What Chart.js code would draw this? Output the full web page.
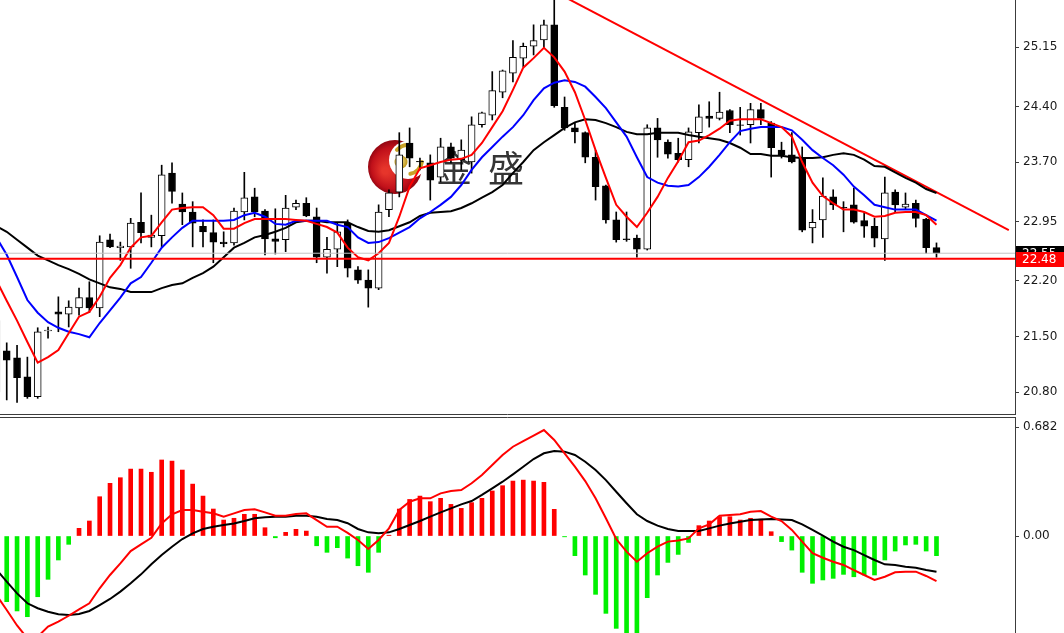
<!DOCTYPE html>
<html>
<head>
<meta charset="utf-8">
<script src="https://cdn.jsdelivr.net/npm/chart.js@4.4.1/dist/chart.umd.min.js"></script>
<style>
  html, body { margin: 0; padding: 0; background: #fff; }
  #wrap { position: relative; width: 1064px; height: 633px; overflow: hidden; }
  #priceBox { position: absolute; left: 0; top: 0; width: 1064px; height: 415px; }
  #macdBox { position: absolute; left: 0; top: 417px; width: 1064px; height: 216px; }
</style>
</head>
<body>
<div id="wrap">
  <div id="priceBox"><canvas id="priceChart"></canvas></div>
  <div id="macdBox"><canvas id="macdChart"></canvas></div>
</div>
<script>
// candles, one per bar (the first one sits just off the left edge)
const opens  = [21.70,
                21.32,21.23,20.99,20.74,21.57,21.81,21.78,21.86,21.99,21.86,
                22.72,22.62,22.63,22.94,22.75,22.77,23.56,23.17,23.07,22.89,
                22.81,22.69,22.68,23.07,23.26,23.08,22.73,22.72,23.13,23.18,
                23.01,22.50,22.60,22.93,22.34,22.21,22.11,23.10,23.32,23.94,
                23.71,23.69,23.51,23.89,23.73,23.70,24.17,24.29,24.58,24.82,
                25.01,25.16,25.24,25.43,24.39,24.13,24.07,23.76,23.40,22.97,
                22.73,22.74,22.60,24.13,23.95,23.81,23.73,24.07,24.28,24.25,
                24.35,24.17,24.17,24.36,24.19,23.85,23.79,23.76,22.87,22.97,
                23.26,23.13,23.16,22.96,22.89,22.73,23.32,23.13,23.18,22.98,22.62];
const highs  = [21.75,
                21.42,21.39,21.24,21.61,21.62,22.00,21.95,22.11,22.19,22.77,
                22.79,22.69,22.99,23.31,23.03,23.66,23.69,23.31,23.20,22.97,
                22.97,22.82,23.12,23.57,23.37,23.10,23.11,23.28,23.22,23.25,
                23.12,22.75,22.94,22.97,22.38,22.34,23.16,23.35,24.07,24.13,
                23.75,23.79,24.00,23.94,23.98,24.27,24.33,24.84,24.86,25.23,
                25.20,25.43,25.49,25.85,24.52,24.19,24.08,23.85,23.41,23.07,
                23.07,22.78,24.17,24.25,23.98,24.00,24.13,24.42,24.46,24.58,
                24.36,24.39,24.44,24.44,24.21,23.95,24.07,23.89,23.10,23.50,
                23.35,23.20,23.37,23.06,22.99,23.51,23.35,23.31,23.22,22.99,22.68];
const lows   = [20.70,
                20.70,20.67,20.72,20.72,21.48,21.56,21.62,21.77,21.80,21.75,
                22.62,22.46,22.36,22.68,22.63,22.63,23.18,22.91,22.63,22.63,
                22.43,22.63,22.65,22.97,23.01,22.53,22.54,22.57,23.10,23.01,
                22.43,22.30,22.38,22.25,22.17,21.87,22.09,23.01,23.26,23.64,
                23.60,23.22,23.45,23.69,23.60,23.56,24.14,24.23,24.51,24.71,
                24.90,25.05,25.14,24.39,24.10,23.94,23.69,23.22,22.93,22.69,
                22.70,22.50,22.59,23.76,23.75,23.70,23.64,23.94,24.14,24.23,
                24.07,24.04,23.94,24.17,23.51,23.75,23.69,22.82,22.68,22.75,
                23.10,22.82,22.93,22.75,22.63,22.46,23.07,23.10,22.88,22.55,22.50];
const closes = [20.80,
                21.20,20.98,20.74,21.56,21.58,21.78,21.87,21.99,21.86,22.69,
                22.63,22.64,22.93,22.81,22.78,23.54,23.33,23.07,22.93,22.82,
                22.69,22.67,23.08,23.25,23.07,22.73,22.70,23.12,23.18,23.02,
                22.50,22.60,22.82,22.36,22.21,22.11,23.07,23.31,23.79,23.75,
                23.70,23.47,23.89,23.75,23.85,24.17,24.32,24.60,24.85,25.02,
                25.16,25.23,25.43,24.41,24.13,24.08,23.76,23.39,22.97,22.72,
                22.72,22.60,24.13,23.98,23.80,23.73,24.08,24.27,24.25,24.33,
                24.17,24.16,24.36,24.25,23.88,23.79,23.70,22.84,22.94,23.27,
                23.16,23.12,22.94,22.89,22.74,23.31,23.16,23.17,22.99,22.62,22.55];

// moving averages as drawn
const maRed   = [22.21,
                 21.95,21.70,21.43,21.17,21.24,21.33,21.54,21.75,21.81,22.00,
                 22.24,22.40,22.62,22.75,22.77,22.94,23.10,23.12,23.13,23.13,
                 23.03,22.86,22.86,22.93,22.98,22.98,22.98,22.98,22.97,22.96,
                 22.92,22.88,22.81,22.62,22.50,22.46,22.55,22.68,23.01,23.39,
                 23.62,23.66,23.70,23.73,23.74,23.79,23.94,24.14,24.34,24.61,
                 24.89,25.01,25.14,25.02,24.84,24.58,24.23,23.85,23.50,23.16,
                 23.01,22.88,23.06,23.26,23.50,23.71,23.95,23.97,24.04,24.12,
                 24.22,24.24,24.24,24.24,24.19,24.14,24.02,23.70,23.44,23.27,
                 23.18,23.10,23.10,23.07,23.01,23.02,23.06,23.07,23.07,23.03,22.91];
const maBlue  = [22.75,
                 22.53,22.25,21.96,21.80,21.68,21.61,21.56,21.53,21.49,21.67,
                 21.83,21.99,22.17,22.25,22.43,22.62,22.75,22.87,22.96,22.96,
                 22.96,22.96,22.97,23.03,23.06,23.01,22.92,22.91,22.96,22.96,
                 22.96,22.96,22.91,22.88,22.75,22.68,22.69,22.74,22.81,22.88,
                 22.99,23.07,23.16,23.26,23.41,23.60,23.76,23.89,24.02,24.14,
                 24.29,24.48,24.63,24.70,24.73,24.71,24.65,24.52,24.38,24.20,
                 24.02,23.76,23.51,23.44,23.40,23.39,23.41,23.51,23.64,23.79,
                 23.95,24.09,24.12,24.14,24.14,24.14,24.10,23.98,23.85,23.75,
                 23.66,23.54,23.39,23.28,23.16,23.13,23.10,23.10,23.10,23.03,22.96];
const maBlack = [22.89,
                 22.82,22.72,22.62,22.52,22.46,22.40,22.35,22.29,22.22,22.17,
                 22.12,22.10,22.06,22.06,22.06,22.11,22.15,22.17,22.24,22.30,
                 22.38,22.50,22.62,22.68,22.75,22.78,22.82,22.87,22.94,22.96,
                 22.96,22.94,22.94,22.94,22.88,22.83,22.82,22.84,22.89,22.94,
                 23.02,23.06,23.07,23.08,23.12,23.18,23.25,23.32,23.41,23.56,
                 23.70,23.85,23.95,24.04,24.13,24.20,24.24,24.23,24.19,24.14,
                 24.08,24.05,24.05,24.07,24.07,24.07,24.04,24.02,24.00,23.98,
                 23.94,23.88,23.80,23.80,23.78,23.78,23.76,23.75,23.75,23.76,
                 23.79,23.81,23.79,23.73,23.65,23.64,23.57,23.50,23.44,23.36,23.31];

// MACD panel
const macdHist  = [-0.380,
                   -0.411,-0.469,-0.505,-0.380,-0.271,-0.150,-0.052,0.048,0.094,0.246,
                   0.330,0.365,0.419,0.419,0.399,0.476,0.469,0.413,0.325,0.250,
                   0.169,0.100,0.111,0.136,0.136,0.052,-0.011,0.023,0.042,0.031,
                   -0.061,-0.102,-0.073,-0.138,-0.186,-0.227,-0.102,0.005,0.169,0.229,
                   0.250,0.215,0.236,0.198,0.173,0.209,0.236,0.282,0.315,0.344,
                   0.350,0.344,0.336,0.167,-0.005,-0.123,-0.244,-0.365,-0.484,-0.578,
                   -0.640,-0.620,-0.386,-0.244,-0.165,-0.115,-0.040,0.065,0.094,0.121,
                   0.121,0.100,0.111,0.106,0.027,-0.035,-0.088,-0.227,-0.296,-0.275,
                   -0.265,-0.240,-0.255,-0.244,-0.244,-0.150,-0.094,-0.056,-0.052,-0.094,-0.123];
const macdLine  = [-0.370,
                   -0.463,-0.560,-0.640,-0.630,-0.567,-0.536,-0.499,-0.459,-0.421,-0.327,
                   -0.244,-0.171,-0.094,-0.052,-0.011,0.079,0.136,0.163,0.163,0.152,
                   0.142,0.121,0.142,0.163,0.167,0.148,0.127,0.127,0.138,0.142,
                   0.100,0.058,0.058,0.020,-0.025,-0.081,-0.025,0.048,0.163,0.215,
                   0.236,0.236,0.267,0.282,0.288,0.330,0.382,0.444,0.507,0.559,
                   0.594,0.628,0.663,0.601,0.518,0.434,0.344,0.236,0.111,-0.019,
                   -0.098,-0.161,-0.108,-0.067,-0.035,-0.028,-0.015,0.048,0.073,0.127,
                   0.131,0.136,0.152,0.156,0.121,0.094,0.038,-0.035,-0.108,-0.136,
                   -0.161,-0.181,-0.213,-0.244,-0.275,-0.255,-0.227,-0.223,-0.223,-0.250,-0.282];
const signalLine = [-0.210,
                   -0.286,-0.359,-0.421,-0.452,-0.474,-0.490,-0.494,-0.488,-0.469,-0.432,
                   -0.394,-0.348,-0.296,-0.240,-0.177,-0.119,-0.067,-0.019,0.017,0.044,
                   0.058,0.069,0.079,0.094,0.111,0.117,0.121,0.121,0.127,0.127,
                   0.121,0.106,0.100,0.080,0.044,0.023,0.017,0.023,0.044,0.069,
                   0.094,0.121,0.148,0.173,0.198,0.219,0.257,0.298,0.340,0.386,
                   0.434,0.482,0.518,0.532,0.528,0.507,0.465,0.413,0.350,0.277,
                   0.205,0.136,0.094,0.065,0.044,0.031,0.031,0.031,0.048,0.065,
                   0.079,0.090,0.100,0.104,0.106,0.104,0.100,0.073,0.038,0.002,
                   -0.035,-0.067,-0.088,-0.119,-0.150,-0.177,-0.181,-0.192,-0.198,-0.213,-0.223];

// drawn objects and axis labels
const trendBars   = [53, 97];
const trendPrices = [25.85, 22.84];
const supportLevel = 22.48;
const bidLevel     = 22.55;
const priceTicks = [25.15, 24.40, 23.70, 22.95, 22.20, 21.50, 20.80];
const macdTicks  = [0.682, 0.00];
const macdTickLabels = ['0.682', '0.00'];

const FIRST_BAR = -1;
const X_MIN = -0.65, X_MAX = 97.6;
const AXIS_W = 49;
const FONT = '"DejaVu Sans", Verdana, sans-serif';

const idx = closes.map((c, i) => i);
const barX = i => FIRST_BAR + i;
const pts = arr => arr.map((v, i) => ({x: barX(i), y: v}));

function fitAxis(s) {
    s.width = AXIS_W;
    s.paddingTop = 0;
    s.paddingBottom = 0;
}

const frameLines = {
    id: 'frameLines',
    afterDraw(chart, args, opts) {
        const {ctx, chartArea} = chart;
        ctx.save();
        ctx.strokeStyle = '#3c3c3c';
        ctx.lineWidth = 1;
        ctx.beginPath();
        const y = opts.edge === 'top' ? chartArea.top + 0.5 : chartArea.bottom - 0.5;
        ctx.moveTo(0, y);
        ctx.lineTo(chartArea.right, y);
        ctx.stroke();
        ctx.restore();
    }
};

const priceTags = {
    id: 'priceTags',
    afterDraw(chart) {
        const {ctx, chartArea} = chart;
        const y = chart.scales.y;
        const left = chartArea.right + 1;
        ctx.save();
        ctx.font = '12px ' + FONT;
        ctx.textBaseline = 'middle';
        [[bidLevel, '#000000'], [supportLevel, '#ff0000']].forEach(([v, bg]) => {
            const py = Math.round(y.getPixelForValue(v));
            ctx.fillStyle = bg;
            ctx.fillRect(left, py - 7, chart.width - left, 15);
            ctx.fillStyle = '#ffffff';
            ctx.fillText(v.toFixed(2), left + 6, py + 1);
        });
        ctx.restore();
    }
};

// the broker logo behind the bars
const logo = {
    id: 'logo',
    beforeDatasetsDraw(chart) {
        const ctx = chart.ctx;
        ctx.save();
        const cx = 395, cy = 167;
        const g = ctx.createRadialGradient(cx - 10, cy + 4, 3, cx, cy, 28);
        g.addColorStop(0, '#e6352b');
        g.addColorStop(0.7, '#c0101a');
        g.addColorStop(1, '#8a0410');
        ctx.fillStyle = g;
        ctx.beginPath();
        ctx.arc(cx, cy, 27, 0, Math.PI * 2);
        ctx.fill();
        const ix = 408, iy = 160;
        ctx.fillStyle = '#ffffff';
        ctx.beginPath();
        ctx.arc(ix, iy, 19, 0, Math.PI * 2);
        ctx.fill();
        ctx.strokeStyle = '#c9a227';
        ctx.lineCap = 'round';
        ctx.lineWidth = 4;
        ctx.beginPath();
        ctx.arc(ix, iy, 15, -2.4, -1.4);
        ctx.stroke();
        ctx.beginPath();
        ctx.arc(ix, iy, 14, 0.15, 1.4);
        ctx.stroke();
        const gb = ctx.createRadialGradient(399, 160, 1, 401, 162, 7);
        gb.addColorStop(0, '#fbe79a');
        gb.addColorStop(1, '#b8900f');
        ctx.fillStyle = gb;
        ctx.beginPath();
        ctx.arc(401, 162, 6.5, 0, Math.PI * 2);
        ctx.fill();

        ctx.font = '36px "Noto Sans CJK SC", sans-serif';
        ctx.textBaseline = 'middle';
        ctx.fillStyle = '#353535';
        ctx.fillText('金', 436, 168);
        ctx.fillText('盛', 488, 168);
        ctx.restore();
    }
};

function rightAxis(min, max, ticks, labels) {
    return {
        position: 'right',
        min: min,
        max: max,
        afterBuildTicks: s => { s.ticks = ticks.map(v => ({value: v})); },
        afterFit: fitAxis,
        grid: {drawOnChartArea: false, drawTicks: true, tickLength: 4, color: '#3c3c3c'},
        border: {display: true, color: '#3c3c3c', width: 1},
        ticks: {
            padding: 4,
            color: '#1a1a1a',
            font: {family: FONT, size: 12},
            autoSkip: false,
            callback: (v, i) => labels ? labels[i] : Number(v).toFixed(2)
        }
    };
}

const xAxis = {type: 'linear', min: X_MIN, max: X_MAX, display: false, offset: false};

new Chart(document.getElementById('priceChart'), {
    type: 'bar',
    data: {
        datasets: [
            {type: 'line', data: [{x: X_MIN, y: supportLevel}, {x: X_MAX, y: supportLevel}],
             borderColor: '#ff0000', borderWidth: 2, pointRadius: 0, order: 1},
            {type: 'line', data: [{x: X_MIN, y: bidLevel}, {x: X_MAX, y: bidLevel}],
             borderColor: '#c4c4c4', borderWidth: 1, pointRadius: 0, order: 1},
            {type: 'line', data: pts(maRed), borderColor: '#ff0000', borderWidth: 2,
             pointRadius: 0, tension: 0, order: 1},
            {type: 'line', data: pts(maBlue), borderColor: '#0000ff', borderWidth: 2,
             pointRadius: 0, tension: 0, order: 1},
            {type: 'line', data: pts(maBlack), borderColor: '#000000', borderWidth: 2,
             pointRadius: 0, tension: 0, order: 1},
            {type: 'line', data: trendBars.map((b, i) => ({x: b, y: trendPrices[i]})),
             borderColor: '#ff0000', borderWidth: 2, pointRadius: 0, order: 1},
            {
                data: idx.map(i => ({x: barX(i), y: [opens[i], closes[i]]})),
                backgroundColor: idx.map(i => closes[i] >= opens[i] ? '#ffffff' : '#000000'),
                borderColor: '#000000',
                borderWidth: 1,
                borderSkipped: false,
                barThickness: 7,
                grouped: false,
                order: 2
            },
            {
                data: idx.map(i => ({x: barX(i), y: [lows[i], highs[i]]})),
                backgroundColor: '#000000',
                barThickness: 1,
                grouped: false,
                order: 3
            }
        ]
    },
    options: {
        responsive: true,
        maintainAspectRatio: false,
        animation: false,
        events: [],
        layout: {padding: 0},
        plugins: {legend: {display: false}, tooltip: {enabled: false}, frameLines: {edge: 'bottom'}},
        scales: {
            x: xAxis,
            y: rightAxis(20.51, 25.743, priceTicks, null)
        }
    },
    plugins: [logo, frameLines, priceTags]
});

new Chart(document.getElementById('macdChart'), {
    type: 'bar',
    data: {
        datasets: [
            {type: 'line', data: pts(macdLine), borderColor: '#ff0000', borderWidth: 2,
             pointRadius: 0, tension: 0, order: 1},
            {type: 'line', data: pts(signalLine), borderColor: '#000000', borderWidth: 2,
             pointRadius: 0, tension: 0, order: 1},
            {
                data: pts(macdHist),
                backgroundColor: macdHist.map(v => v >= 0 ? '#ff0000' : '#00f000'),
                barThickness: 4,
                grouped: false,
                order: 2
            }
        ]
    },
    options: {
        responsive: true,
        maintainAspectRatio: false,
        animation: false,
        events: [],
        layout: {padding: 0},
        plugins: {legend: {display: false}, tooltip: {enabled: false}, frameLines: {edge: 'top'}},
        scales: {
            x: xAxis,
            y: rightAxis(-0.607, 0.745, macdTicks, macdTickLabels)
        }
    },
    plugins: [frameLines]
});
</script>
</body>
</html>
